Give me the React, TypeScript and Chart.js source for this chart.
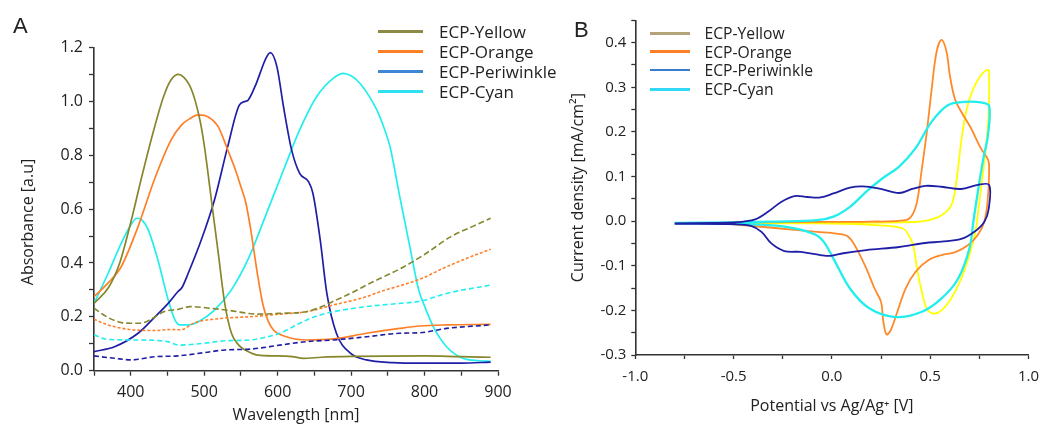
import React, { useEffect, useRef } from 'react';
import { Chart, registerables } from 'chart.js';

Chart.register(...registerables);

const FONT = '"Open Sans", "DejaVu Sans", sans-serif';
const INK = '#222222';
const AXIS = '#333333';

// ---------- Panel A : absorption spectra (nm, absorbance) ----------
const yellowNeutralNm = [350, 370, 385, 400, 415, 430, 445, 455, 465, 472, 480, 488, 495, 501, 510, 519, 528, 537, 547, 557, 573, 600, 620, 635, 660, 700, 800, 850, 890];
const yellowNeutralAbs = [0.25, 0.31, 0.4, 0.55, 0.72, 0.88, 1.02, 1.08, 1.1, 1.09, 1.06, 1.0, 0.92, 0.82, 0.63, 0.44, 0.25, 0.14, 0.095, 0.075, 0.058, 0.055, 0.052, 0.046, 0.05, 0.053, 0.055, 0.052, 0.05];
const yellowOxidizedNm = [350, 370, 385, 400, 417, 430, 445, 465, 481, 508, 536, 572, 603, 639, 660, 680, 700, 726, 750, 772, 799, 836, 865, 890];
const yellowOxidizedAbs = [0.232, 0.196, 0.18, 0.176, 0.178, 0.195, 0.219, 0.228, 0.238, 0.232, 0.223, 0.21, 0.213, 0.219, 0.238, 0.263, 0.288, 0.325, 0.356, 0.386, 0.43, 0.498, 0.535, 0.566];

const orangeNeutralNm = [350, 369, 387, 410, 432, 455, 469, 480, 492, 505, 519, 532, 542, 550, 557, 563, 568, 573, 580, 587, 594, 612, 640, 676, 721, 766, 794, 830, 890];
const orangeNeutralAbs = [0.275, 0.325, 0.386, 0.535, 0.708, 0.857, 0.912, 0.935, 0.95, 0.943, 0.906, 0.82, 0.75, 0.683, 0.62, 0.53, 0.44, 0.35, 0.245, 0.185, 0.152, 0.126, 0.114, 0.118, 0.139, 0.157, 0.166, 0.17, 0.172];
const orangeOxidizedNm = [350, 369, 396, 432, 455, 468, 487, 523, 560, 603, 639, 676, 721, 739, 766, 794, 830, 860, 890];
const orangeOxidizedAbs = [0.191, 0.17, 0.154, 0.149, 0.153, 0.152, 0.178, 0.194, 0.2, 0.21, 0.219, 0.244, 0.275, 0.293, 0.315, 0.34, 0.386, 0.42, 0.451];

const periwinkleNeutralNm = [350, 378, 410, 433, 451, 464, 470, 478, 496, 514, 532, 548, 556, 560, 571, 576, 584, 590, 599, 608, 619, 630, 642, 648, 658, 667, 680, 699, 721, 757, 794, 850, 890];
const periwinkleNeutralAbs = [0.071, 0.089, 0.139, 0.2, 0.25, 0.293, 0.31, 0.36, 0.485, 0.634, 0.832, 0.987, 1.0, 1.005, 1.067, 1.104, 1.16, 1.181, 1.129, 0.98, 0.82, 0.733, 0.702, 0.659, 0.485, 0.287, 0.139, 0.065, 0.04, 0.03, 0.028, 0.028, 0.032];
const periwinkleOxidizedNm = [350, 378, 401, 433, 464, 500, 528, 562, 603, 639, 676, 721, 766, 794, 830, 890];
const periwinkleOxidizedAbs = [0.055, 0.046, 0.04, 0.052, 0.055, 0.067, 0.077, 0.08, 0.095, 0.108, 0.114, 0.126, 0.139, 0.141, 0.157, 0.17];

const cyanNeutralNm = [350, 369, 387, 400, 408, 415, 424, 437, 451, 460, 467, 478, 492, 514, 537, 560, 585, 608, 630, 653, 676, 689, 700, 712, 735, 745, 753, 766, 780, 792, 800, 812, 830, 852, 875, 890];
const cyanNeutralAbs = [0.25, 0.36, 0.473, 0.54, 0.566, 0.56, 0.522, 0.411, 0.263, 0.19, 0.17, 0.17, 0.182, 0.225, 0.3, 0.415, 0.585, 0.745, 0.894, 1.017, 1.086, 1.104, 1.095, 1.067, 0.968, 0.9, 0.832, 0.65, 0.46, 0.3, 0.24, 0.163, 0.089, 0.046, 0.037, 0.035];
const cyanOxidizedNm = [350, 369, 410, 450, 466, 500, 528, 562, 580, 603, 630, 650, 676, 721, 766, 794, 830, 890];
const cyanOxidizedAbs = [0.133, 0.116, 0.114, 0.108, 0.095, 0.102, 0.111, 0.114, 0.122, 0.139, 0.176, 0.2, 0.219, 0.238, 0.25, 0.258, 0.287, 0.318];

const absTicksX = { min: 350, max: 900, step: 50 };
const absTicksY = { min: 0, max: 1.2, step: 0.1 };

// ---------- Panel B : cyclic voltammograms (V, mA/cm2) ----------
const yellowCvV = [-0.5, -0.075, 0.425, 0.5, 0.558, 0.608, 0.633, 0.658, 0.683, 0.717, 0.758, 0.795, 0.8, 0.797, 0.783, 0.767, 0.75, 0.733, 0.7, 0.658, 0.608, 0.558, 0.517, 0.483, 0.458, 0.433, 0.417, 0.4, 0.358, 0.175, -0.075, -0.5];
const yellowCvI = [-0.003, -0.003, -0.002, 0.003, 0.013, 0.036, 0.088, 0.178, 0.245, 0.294, 0.327, 0.339, 0.33, 0.238, 0.163, 0.103, 0.043, -0.016, -0.076, -0.129, -0.173, -0.2, -0.207, -0.196, -0.159, -0.106, -0.061, -0.039, -0.016, -0.008, -0.005, -0.005];

const orangeCvV = [-0.5, -0.2, 0.2, 0.375, 0.408, 0.433, 0.458, 0.483, 0.508, 0.533, 0.558, 0.583, 0.6, 0.625, 0.658, 0.708, 0.758, 0.795, 0.8, 0.792, 0.775, 0.742, 0.692, 0.625, 0.558, 0.492, 0.425, 0.375, 0.333, 0.3, 0.278, 0.262, 0.25, 0.217, 0.175, 0.125, 0.083, 0.025, -0.075, -0.275, -0.5];
const orangeCvI = [-0.003, -0.002, -0.001, 0.002, 0.013, 0.043, 0.118, 0.2, 0.297, 0.38, 0.406, 0.38, 0.327, 0.275, 0.245, 0.208, 0.163, 0.137, 0.11, 0.043, -0.002, -0.031, -0.054, -0.07, -0.076, -0.087, -0.114, -0.151, -0.203, -0.244, -0.254, -0.226, -0.181, -0.151, -0.106, -0.061, -0.035, -0.028, -0.024, -0.016, -0.007];

const periwinkleCvV = [-0.8, -0.6, -0.5, -0.45, -0.39, -0.325, -0.258, -0.19, -0.125, -0.058, 0.008, 0.092, 0.158, 0.242, 0.342, 0.408, 0.475, 0.558, 0.658, 0.742, 0.8, 0.798, 0.775, 0.725, 0.658, 0.558, 0.475, 0.342, 0.175, 0.058, -0.008, -0.058, -0.158, -0.242, -0.308, -0.358, -0.408, -0.492, -0.8];
const periwinkleCvI = [-0.005, -0.004, -0.003, -0.001, 0.004, 0.021, 0.043, 0.056, 0.054, 0.053, 0.062, 0.075, 0.078, 0.073, 0.063, 0.072, 0.079, 0.077, 0.072, 0.081, 0.081, 0.028, -0.002, -0.024, -0.04, -0.046, -0.049, -0.058, -0.065, -0.072, -0.078, -0.076, -0.069, -0.067, -0.05, -0.024, -0.011, -0.007, -0.006];

const cyanCvV = [-0.8, -0.5, -0.3, -0.075, 0.008, 0.092, 0.175, 0.258, 0.342, 0.425, 0.508, 0.592, 0.675, 0.758, 0.8, 0.793, 0.772, 0.745, 0.72, 0.7, 0.642, 0.558, 0.458, 0.325, 0.192, 0.092, 0.008, -0.042, -0.085, -0.19, -0.325, -0.525, -0.8];
const cyanCvI = [-0.004, -0.003, -0.001, 0.002, 0.01, 0.032, 0.066, 0.096, 0.122, 0.163, 0.223, 0.26, 0.267, 0.266, 0.258, 0.19, 0.144, 0.073, 0.0, -0.061, -0.129, -0.173, -0.203, -0.215, -0.196, -0.151, -0.084, -0.046, -0.03, -0.016, -0.009, -0.006, -0.005];

const cvTicksX = { min: -1, max: 1, step: 0.25 };
const cvTicksY = { min: -0.3, max: 0.45, step: 0.05 };

// ---------- series names and colours ----------
const seriesNames = ['ECP-Yellow', 'ECP-Orange', 'ECP-Periwinkle', 'ECP-Cyan'];
const absLineColors = ['#86862c', '#ff7f27', '#1f1fa6', '#22eeee'];
const cvLineColors = ['#ffff00', '#ff8a2a', '#1f1fa6', '#22eeee'];
const absLegendColors = ['#8c8a44', '#ff7f27', '#3f86d4', '#2fe0f2'];
const cvLegendColors = ['#b3a37a', '#ff7f27', '#3a7bd0', '#33d8f4'];
const oxidizedDash = [[6, 3], [3, 2], [5, 3], [5, 3]];

const toXY = (xs: number[], ys: number[]) => xs.map((x, i) => ({ x, y: ys[i] }));

function axisCommon(tickLength: number) {
  return {
    grid: {
      display: true,
      drawOnChartArea: false,
      drawTicks: true,
      tickLength,
      tickColor: AXIS,
      tickWidth: 1.3,
    },
    border: { display: true, color: AXIS, width: 1.6 },
  };
}

function AbsorbanceChart() {
  const ref = useRef<HTMLCanvasElement | null>(null);
  useEffect(() => {
    if (!ref.current) return;
    const neutral = [
      [yellowNeutralNm, yellowNeutralAbs],
      [orangeNeutralNm, orangeNeutralAbs],
      [periwinkleNeutralNm, periwinkleNeutralAbs],
      [cyanNeutralNm, cyanNeutralAbs],
    ];
    const oxidized = [
      [yellowOxidizedNm, yellowOxidizedAbs],
      [orangeOxidizedNm, orangeOxidizedAbs],
      [periwinkleOxidizedNm, periwinkleOxidizedAbs],
      [cyanOxidizedNm, cyanOxidizedAbs],
    ];
    const datasets: any[] = [];
    oxidized.forEach(([xs, ys], i) => {
      datasets.push({
        label: seriesNames[i] + ' (oxidized)',
        data: toXY(xs as number[], ys as number[]),
        borderColor: absLineColors[i],
        borderWidth: 1.6,
        borderDash: oxidizedDash[i],
        showLine: true,
        pointRadius: 0,
        cubicInterpolationMode: 'monotone',
      });
    });
    neutral.forEach(([xs, ys], i) => {
      datasets.push({
        label: seriesNames[i],
        data: toXY(xs as number[], ys as number[]),
        borderColor: absLineColors[i],
        borderWidth: 1.7,
        showLine: true,
        pointRadius: 0,
        cubicInterpolationMode: 'monotone',
      });
    });
    const chart = new Chart(ref.current, {
      type: 'scatter',
      data: { datasets },
      options: {
        animation: false,
        responsive: false,
        maintainAspectRatio: false,
        events: [],
        layout: { padding: { left: 0, right: 32, top: 47.5, bottom: 0 } },
        plugins: { legend: { display: false }, tooltip: { enabled: false } },
        elements: { point: { radius: 0 } },
        scales: {
          x: {
            type: 'linear',
            min: absTicksX.min,
            max: absTicksX.max,
            afterFit: (s: any) => { s.height = 56.3; },
            ticks: {
              stepSize: absTicksX.step,
              autoSkip: false,
              maxRotation: 0,
              padding: 7,
              color: INK,
              font: { family: FONT, size: 16 },
              callback: (v: any) => (Math.round(v) % 100 === 0 && Math.round(v) !== 350 ? String(Math.round(v)) : ''),
            },
            title: {
              display: true,
              text: 'Wavelength [nm]',
              color: INK,
              font: { family: FONT, size: 16 },
              padding: { top: 0, bottom: 2.4 },
            },
            ...axisCommon(5),
          },
          y: {
            type: 'linear',
            min: absTicksY.min,
            max: absTicksY.max,
            afterFit: (s: any) => { s.width = 94; },
            ticks: {
              stepSize: absTicksY.step,
              autoSkip: false,
              padding: 6,
              color: INK,
              font: { family: FONT, size: 16 },
              callback: (v: any) => (Math.round(v * 10) % 2 === 0 ? Number(v).toFixed(1) : ''),
            },
            title: { display: false },
            ...axisCommon(5),
          },
        },
      } as any,
    });
    return () => chart.destroy();
  }, []);
  return <canvas ref={ref} width={530} height={427} style={{ position: 'absolute', left: 0, top: 0, width: 530, height: 427 }} />;
}

function VoltammogramChart() {
  const ref = useRef<HTMLCanvasElement | null>(null);
  useEffect(() => {
    if (!ref.current) return;
    const loops = [
      [yellowCvV, yellowCvI],
      [orangeCvV, orangeCvI],
      [periwinkleCvV, periwinkleCvI],
      [cyanCvV, cyanCvI],
    ];
    const order = [2, 3, 1, 0];
    const datasets = order.map((i) => ({
      label: seriesNames[i],
      data: toXY(loops[i][0], loops[i][1]),
      borderColor: cvLineColors[i],
      borderWidth: i === 3 ? 2.3 : 1.8,
      showLine: true,
      pointRadius: 0,
      tension: 0.35,
    }));
    const chart = new Chart(ref.current, {
      type: 'scatter',
      data: { datasets },
      options: {
        animation: false,
        responsive: false,
        maintainAspectRatio: false,
        events: [],
        layout: { padding: { left: 0, right: 13, top: 20.3, bottom: 0 } },
        plugins: { legend: { display: false }, tooltip: { enabled: false } },
        elements: { point: { radius: 0 } },
        scales: {
          x: {
            type: 'linear',
            min: cvTicksX.min,
            max: cvTicksX.max,
            afterFit: (s: any) => { s.height = 72; },
            ticks: {
              stepSize: cvTicksX.step,
              autoSkip: false,
              maxRotation: 0,
              padding: 9,
              color: INK,
              font: { family: FONT, size: 15 },
              callback: (v: any) => {
                const k = Math.round(v * 100);
                if (k % 50 !== 0) return '';
                return (k === 0 ? 0 : k / 100).toFixed(1);
              },
            },
            title: {
              display: true,
              text: 'Potential vs Ag/Ag\u207A [V]',
              color: INK,
              font: { family: FONT, size: 16 },
              padding: { top: 0, bottom: 10.7 },
            },
            ...axisCommon(4),
          },
          y: {
            type: 'linear',
            min: cvTicksY.min,
            max: cvTicksY.max,
            afterFit: (s: any) => { s.width = 105.3; },
            ticks: {
              stepSize: cvTicksY.step,
              autoSkip: false,
              padding: 5,
              color: INK,
              font: { family: FONT, size: 15 },
              callback: (v: any) => {
                const k = Math.round(v * 100);
                if (k % 10 !== 0 || k > 40) return '';
                return (k === 0 ? 0 : k / 100).toFixed(1);
              },
            },
            title: {
              display: true,
              text: 'Current density [mA/cm\u00B2]',
              color: INK,
              font: { family: FONT, size: 16 },
              padding: { top: 38.7, bottom: 0 },
            },
            ...axisCommon(4),
          },
        },
      } as any,
    });
    return () => chart.destroy();
  }, []);
  return <canvas ref={ref} width={518} height={427} style={{ position: 'absolute', left: 530, top: 0, width: 518, height: 427 }} />;
}

function Legend(props: { left: number; lineWidth: number; thickness: number; textGap: number; rows: number[]; colors: string[]; fontSize: number }) {
  const { left, lineWidth, thickness, textGap, rows, colors, fontSize } = props;
  return (
    <>
      {seriesNames.map((name, i) => (
        <div key={name} style={{ position: 'absolute', left, top: rows[i] - 10, height: 20, display: 'flex', alignItems: 'center', whiteSpace: 'nowrap' }}>
          <div style={{ width: lineWidth, height: thickness, background: colors[i] }} />
          <div style={{ marginLeft: textGap, fontFamily: FONT, fontSize, lineHeight: '20px', color: INK }}>{name}</div>
        </div>
      ))}
    </>
  );
}

export default function App() {
  return (
    <div style={{ position: 'absolute', left: 0, top: 0, width: 1048, height: 427, background: '#ffffff', overflow: 'hidden' }}>
      <AbsorbanceChart />
      <VoltammogramChart />
      <div style={{ position: 'absolute', left: -73, top: 212, width: 200, height: 20, lineHeight: '20px', textAlign: 'center', transform: 'rotate(-90deg)', fontFamily: FONT, fontSize: 16, color: INK, whiteSpace: 'nowrap' }}>Absorbance [a.u]</div>
      <div style={{ position: 'absolute', left: 13, top: 15.4, fontFamily: '"Liberation Sans", Arial, sans-serif', fontSize: 22, lineHeight: '22px', color: INK }}>A</div>
      <div style={{ position: 'absolute', left: 574, top: 18.8, fontFamily: '"Liberation Sans", Arial, sans-serif', fontSize: 22, lineHeight: '22px', color: INK }}>B</div>
      <Legend left={378} lineWidth={45} thickness={3} textGap={16} rows={[31.7, 51.7, 71.7, 91.7]} colors={absLegendColors} fontSize={17} />
      <Legend left={650} lineWidth={40} thickness={2.5} textGap={14.5} rows={[33.3, 51.7, 70, 89.3]} colors={cvLegendColors} fontSize={15.7} />
    </div>
  );
}
